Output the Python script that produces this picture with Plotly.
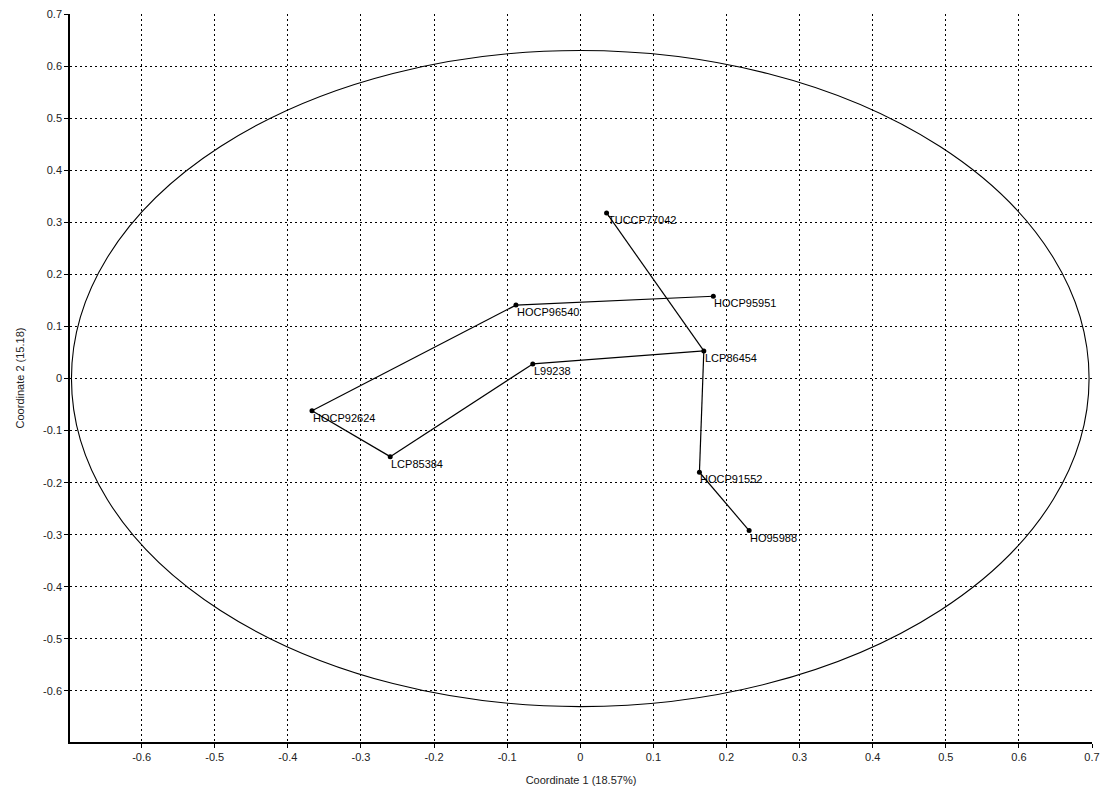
import plotly.graph_objects as go

# Principal coordinates of the clones (Coordinate 1, Coordinate 2)
names = ["TUCCP77042", "HOCP95951", "HOCP96540", "LCP86454", "L99238",
         "HOCP92624", "LCP85384", "HOCP91552", "HO95988"]
coord1 = [0.036, 0.182, -0.088, 0.169, -0.065, -0.367, -0.260, 0.163, 0.231]
coord2 = [0.318, 0.158, 0.141, 0.053, 0.028, -0.062, -0.150, -0.180, -0.292]

# Minimum spanning tree edges (pairs of clone names)
edges = [("TUCCP77042", "LCP86454"), ("HOCP96540", "HOCP95951"),
         ("HOCP96540", "HOCP92624"), ("HOCP92624", "LCP85384"),
         ("LCP85384", "L99238"), ("L99238", "LCP86454"),
         ("LCP86454", "HOCP91552"), ("HOCP91552", "HO95988")]

# Confidence ellipse semi-axes (centred at origin)
ellipse_rx = 0.696
ellipse_ry = 0.630

x_ticks = [-0.6, -0.5, -0.4, -0.3, -0.2, -0.1, 0, 0.1, 0.2, 0.3, 0.4, 0.5, 0.6, 0.7]
x_labels = ["-0.6", "-0.5", "-0.4", "-0.3", "-0.2", "-0.1", "0", "0.1", "0.2",
            "0.3", "0.4", "0.5", "0.6", "0.7"]
y_ticks = [-0.6, -0.5, -0.4, -0.3, -0.2, -0.1, 0, 0.1, 0.2, 0.3, 0.4, 0.5, 0.6, 0.7]
y_labels = ["-0.6", "-0.5", "-0.4", "-0.3", "-0.2", "-0.1", "0", "0.1", "0.2",
            "0.3", "0.4", "0.5", "0.6", "0.7"]

pos = {n: (x, y) for n, x, y in zip(names, coord1, coord2)}

fig = go.Figure()

# tree edges
ex, ey = [], []
for a, b in edges:
    ex += [pos[a][0], pos[b][0], None]
    ey += [pos[a][1], pos[b][1], None]
fig.add_trace(go.Scatter(x=ex, y=ey, mode="lines",
                         line=dict(color="black", width=1.2),
                         hoverinfo="skip", showlegend=False))

# points
fig.add_trace(go.Scatter(x=coord1, y=coord2, mode="markers",
                         marker=dict(color="black", size=5),
                         text=names, showlegend=False))

# point labels
for n, x, y in zip(names, coord1, coord2):
    fig.add_annotation(x=x, y=y, text=n, showarrow=False,
                       xanchor="left", yanchor="top", xshift=-1, yshift=1,
                       font=dict(family="Liberation Sans, Arial", size=11, color="black"))

# ellipse
fig.add_shape(type="circle", xref="x", yref="y",
              x0=-ellipse_rx, x1=ellipse_rx, y0=-ellipse_ry, y1=ellipse_ry,
              line=dict(color="black", width=1.1), layer="above")

axis_common = dict(
    showgrid=True, gridcolor="black", griddash="2px,3px", gridwidth=1,
    zeroline=False, showline=True, linecolor="black", linewidth=1.5,
    ticks="outside", ticklen=4, tickcolor="black", tickwidth=1,
    automargin=False,
    tickfont=dict(family="Liberation Sans, Arial", size=11, color="#222"),
)

fig.update_layout(
    width=1102, height=792,
    margin=dict(l=70, r=10, t=14, b=50),
    paper_bgcolor="white", plot_bgcolor="white",
    font=dict(family="Liberation Sans, Arial", color="black"),
    xaxis=dict(range=[-0.698, 0.70], tickvals=x_ticks, ticktext=x_labels,
               title=dict(text="Coordinate 1 (18.57%)", standoff=14,
                          font=dict(size=11, color="#222")),
               **axis_common),
    yaxis=dict(range=[-0.698, 0.70], tickvals=y_ticks, ticktext=y_labels,
               title=dict(text="Coordinate 2 (15.18)", standoff=16,
                          font=dict(size=11, color="#222")),
               **axis_common),
)

fig.write_html("out.html")
